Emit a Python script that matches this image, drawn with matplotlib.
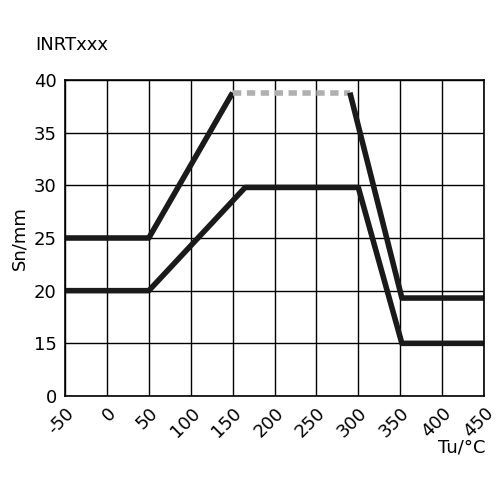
import matplotlib
matplotlib.use("Agg")
import matplotlib.pyplot as plt

# y axis is broken: bottom tick labelled 0 sits where 10 would be
upper_x = [-50, 50, 150]
upper_y = [25, 25, 38.8]
dash_x = [150, 290]
dash_y = [38.8, 38.8]
upper2_x = [290, 352, 450]
upper2_y = [38.8, 19.3, 19.3]
lower_x = [-50, 50, 165, 300, 352, 450]
lower_y = [20, 20, 29.8, 29.8, 15, 15]

xticks = list(range(-50, 451, 50))
yticks = [10, 15, 20, 25, 30, 35, 40]
ylabels = ["0", "15", "20", "25", "30", "35", "40"]

fig = plt.figure(figsize=(5, 5), dpi=100)
ax = fig.add_axes([0.13, 0.208, 0.838, 0.632])
ax.plot(upper_x, upper_y, color="#1a1a1a", lw=4, solid_capstyle="butt")
ax.plot(dash_x, dash_y, color="#b0b0b0", lw=4, ls=(0, (1.5, 1)))
ax.plot(upper2_x, upper2_y, color="#1a1a1a", lw=4, solid_capstyle="butt")
ax.plot(lower_x, lower_y, color="#1a1a1a", lw=4, solid_capstyle="butt")
ax.set_xlim(-50, 450)
ax.set_ylim(10, 40)
ax.set_xticks(xticks)
ax.set_xticklabels([str(t) for t in xticks], rotation=45, fontsize=13,
                   ha="right", rotation_mode="anchor")
ax.set_yticks(yticks)
ax.set_yticklabels(ylabels, fontsize=13)
ax.grid(True, color="black", lw=1)
ax.tick_params(length=0, pad=6)
for s in ax.spines.values():
    s.set_linewidth(1.2)
ax.set_ylabel("Sn/mm", fontsize=13)
fig.text(0.07, 0.9, "INRTxxx", fontsize=13)
fig.text(0.97, 0.095, "Tu/°C", fontsize=13, ha="right")
fig.savefig("out.png")
